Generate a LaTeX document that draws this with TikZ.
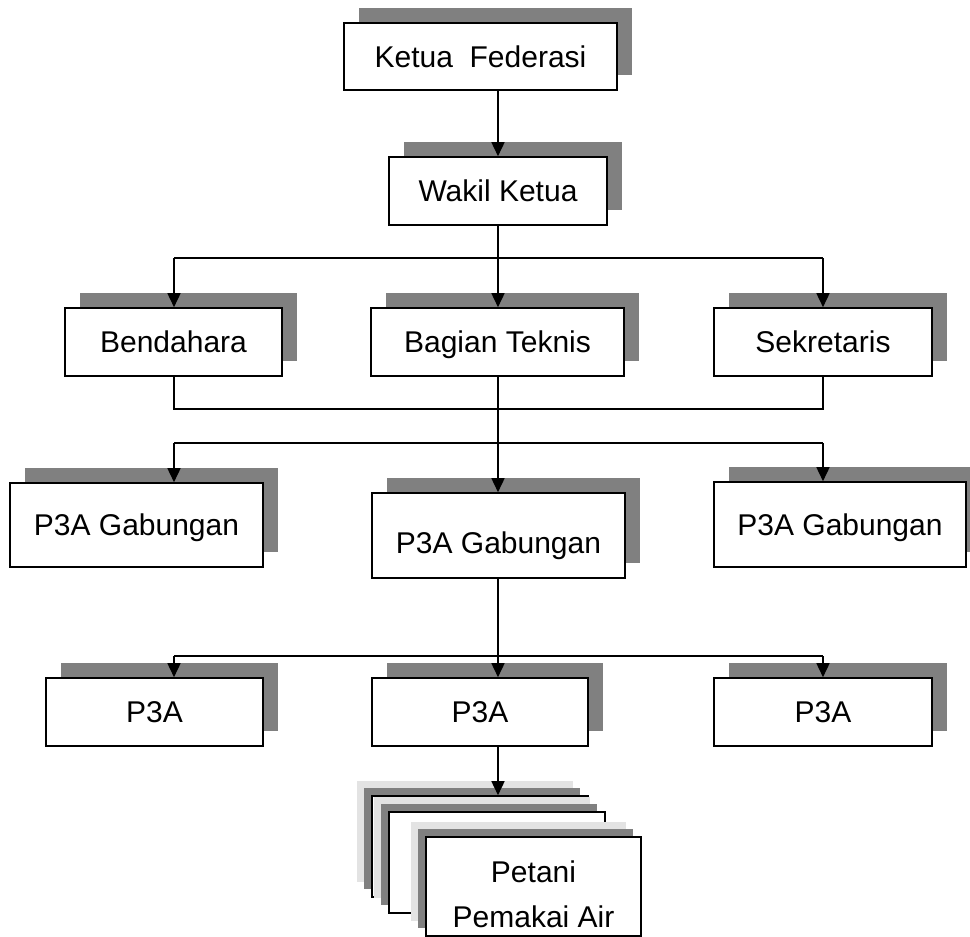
\documentclass[tikz,border=0pt]{standalone}
\usepackage{fontspec}
\setmainfont{Liberation Sans}
\usetikzlibrary{arrows.meta,shadows}
\definecolor{shadegray}{HTML}{808080}
\definecolor{shadelight}{HTML}{E3E3E3}
\tikzset{
  unit/.style={draw=black, line width=1.6pt, fill=white, inner sep=0pt, align=center,
    text height=21.5pt, text depth=0pt, font=\fontsize{30}{45}\selectfont},
  raised/.style={general shadow={shadow xshift=15pt, shadow yshift=15pt, fill=shadegray}},
  stacked/.style={general shadow={shadow xshift=-15pt, shadow yshift=15pt, fill=shadelight},
    general shadow={shadow xshift=-8pt, shadow yshift=8pt, fill=shadegray}},
  link/.style={line width=1.6pt},
  arr/.style={link, -{Triangle[length=14pt,width=13pt]}},
}
\begin{document}
\begin{tikzpicture}[x=1pt,y=-1pt]
\useasboundingbox (0,0) rectangle (970,937);
\clip (0,0) rectangle (970,937);

% columns of the connector trunks
\coordinate (colL) at (174,0);
\coordinate (colM) at (498,0);
\coordinate (colR) at (823,0);
% horizontal buses
\coordinate (bus1) at (498,258);
\coordinate (bus2) at (498,409);
\coordinate (bus3) at (498,443);
\coordinate (bus4) at (498,656);

% top levels
\node[unit, raised, minimum width=273pt, minimum height=67pt] (ketua) at (480.5,56.5) {Ketua\ \ Federasi};
\node[unit, raised, minimum width=218pt, minimum height=68pt] (wakil) at (498,191) {Wakil Ketua};

\node[unit, raised, minimum width=217pt, minimum height=68pt] (bendahara) at (173.5,342) {Bendahara};
\node[unit, raised, minimum width=253pt, minimum height=68pt] (teknis) at (497.5,342) {Bagian Teknis};
\node[unit, raised, minimum width=218pt, minimum height=68pt] (sekretaris) at (823,342) {Sekretaris};

\node[unit, raised, minimum width=253pt, minimum height=84pt] (gabL) at (136.5,525) {P3A Gabungan};
\node[unit, raised, minimum width=253pt, minimum height=85pt, text height=35pt] (gabM) at (498.5,535.5) {P3A Gabungan};
\node[unit, raised, minimum width=252pt, minimum height=85pt] (gabR) at (840,524.5) {P3A Gabungan};

\node[unit, raised, minimum width=217pt, minimum height=68pt] (p3aL) at (154.5,712) {P3A};
\node[unit, raised, minimum width=216pt, minimum height=68pt] (p3aM) at (480,712) {P3A};
\node[unit, raised, minimum width=218pt, minimum height=68pt] (p3aR) at (823,712) {P3A};

% stack of farmer cards
\node[unit, stacked, minimum width=216pt, minimum height=101pt] (petani1) at (480,846.5) {};
\node[unit, stacked, minimum width=216pt, minimum height=101pt] (petani2) at (497,862.5) {};
\node[unit, stacked, minimum width=215pt, minimum height=99pt, text height=81pt] (petani3) at (533.5,886.5) {Petani\\Pemakai Air};

% connectors
\draw[arr] (ketua.south -| colM) -- (wakil.north -| colM);
\draw[link] (wakil.south -| colM) -- (bus1);
\draw[link] (bus1 -| colL) -- (bus1 -| colR);
\draw[arr] (bus1 -| colL) -- (bendahara.north -| colL);
\draw[arr] (bus1) -- (teknis.north -| colM);
\draw[arr] (bus1 -| colR) -- (sekretaris.north -| colR);

\draw[link] (bendahara.south -| colL) -- (bus2 -| colL) -- (bus2 -| colR) -- (sekretaris.south -| colR);
\draw[arr] (teknis.south -| colM) -- (gabM.north -| colM);
\draw[link] (bus3 -| colL) -- (bus3 -| colR);
\draw[arr] (bus3 -| colL) -- (gabL.north -| colL);
\draw[arr] (bus3 -| colR) -- (gabR.north -| colR);

\draw[arr] (gabM.south -| colM) -- (p3aM.north -| colM);
\draw[link] (bus4 -| colL) -- (bus4 -| colR);
\draw[arr] (bus4 -| colL) -- (p3aL.north -| colL);
\draw[arr] (bus4 -| colR) -- (p3aR.north -| colR);

\draw[arr] (p3aM.south -| colM) -- (petani1.north -| colM);
\end{tikzpicture}
\end{document}
